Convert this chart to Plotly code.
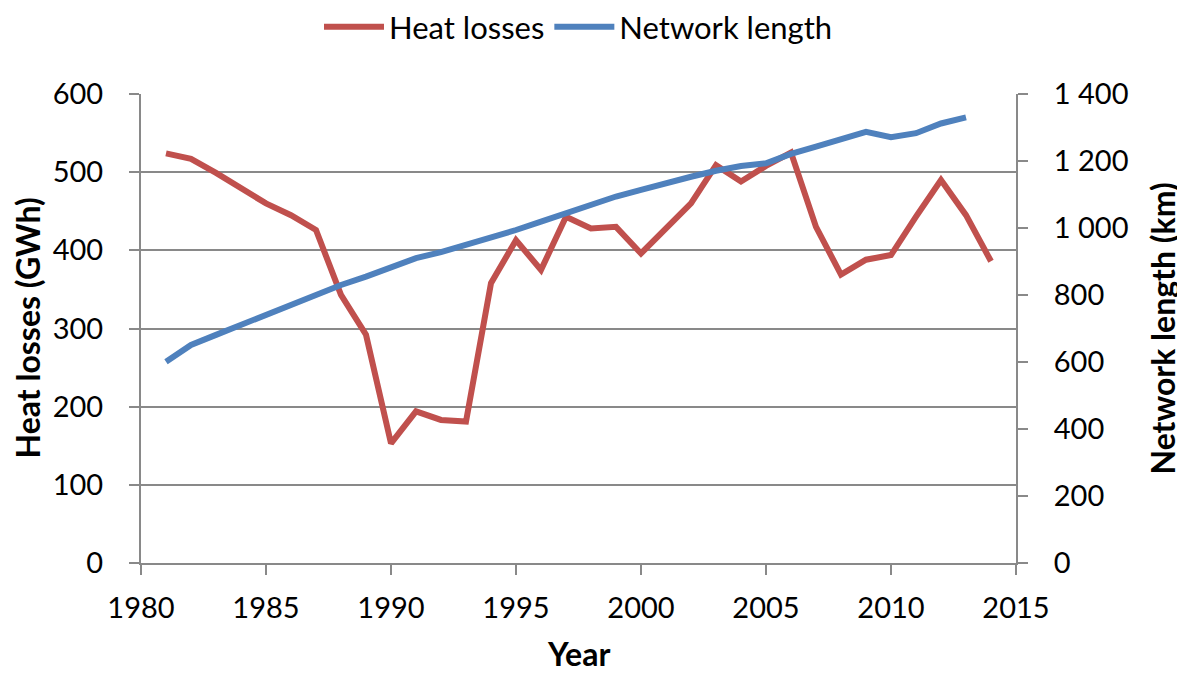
import plotly.graph_objects as go

years = list(range(1981, 2015))
heat_losses = [524, 517, 499, 480, 460, 445, 426, 343, 292, 153, 194, 183, 181, 358,
               413, 375, 443, 428, 430, 396, 428, 460, 509, 488, 508, 525, 430, 369,
               388, 394, 443, 490, 445, 386]
net_years = list(range(1981, 2014))
network_length = [601, 651, 681, 711, 741, 771, 800, 830, 855, 882, 910, 928, 949, 972,
                  994, 1019, 1044, 1069, 1094, 1114, 1135, 1153, 1171, 1185, 1193, 1221,
                  1243, 1265, 1287, 1271, 1283, 1312, 1330]
x_ticks = [1980, 1985, 1990, 1995, 2000, 2005, 2010, 2015]
left_ticks = [0, 100, 200, 300, 400, 500, 600]
right_ticks = [0, 200, 400, 600, 800, 1000, 1200, 1400]
right_labels = ["0", "200", "400", "600", "800", "1 000", "1 200", "1 400"]

RED = "#C0504D"
BLUE = "#4F81BD"
GRID = "#898989"
FONT = "Lato, 'Open Sans', sans-serif"
TICK = 29
TITLE = 32

W, H = 1177, 669
L, R, T, B = 133, 169, 86, 114
PW, PH = W - L - R, H - T - B

fig = go.Figure()
fig.add_trace(go.Scatter(x=years, y=heat_losses, mode="lines", name="Heat losses",
                         line=dict(color=RED, width=6)))
fig.add_trace(go.Scatter(x=net_years, y=network_length, mode="lines", name="Network length",
                         yaxis="y2", line=dict(color=BLUE, width=6)))

axis_common = dict(zeroline=False, showline=True, linecolor=GRID, linewidth=2,
                   ticks="outside", ticklen=10, tickcolor=GRID, tickwidth=2,
                   tickfont=dict(size=TICK))

fig.update_layout(
    width=W, height=H,
    margin=dict(l=L, r=R, t=T, b=B),
    paper_bgcolor="white", plot_bgcolor="white",
    font=dict(family=FONT, size=TICK, color="#000000"),
    showlegend=True,
    legend=dict(orientation="h", x=0.5, xanchor="center", y=1 - 19 / H, yanchor="middle",
                yref="container", font=dict(size=31), itemwidth=60),
    xaxis=dict(range=[1980, 2015], tickvals=x_ticks, showgrid=False,
               ticklabelstandoff=8, **axis_common),
    yaxis=dict(range=[0, 600], tickvals=left_ticks, showgrid=True, gridcolor=GRID,
               gridwidth=2, ticklabelstandoff=20, **axis_common),
    yaxis2=dict(range=[0, 1400], overlaying="y", side="right", tickvals=right_ticks,
                ticktext=right_labels, showgrid=False, ticklabelstandoff=20, **axis_common),
    annotations=[
        dict(text="<b>Heat losses (GWh)</b>", xref="paper", yref="paper",
             x=(19 - L) / PW, y=0.5, textangle=-90, showarrow=False,
             xanchor="center", yanchor="middle", font=dict(size=TITLE)),
        dict(text="<b>Network length (km)</b>", xref="paper", yref="paper",
             x=(1154 - L) / PW, y=0.5, textangle=-90, showarrow=False,
             xanchor="center", yanchor="middle", font=dict(size=TITLE)),
        dict(text="<b>Year</b>", xref="paper", yref="paper",
             x=0.5, y=-(B - 2) / PH, showarrow=False,
             xanchor="center", yanchor="bottom", font=dict(size=TITLE)),
    ],
)

fig.write_html("out.html")
